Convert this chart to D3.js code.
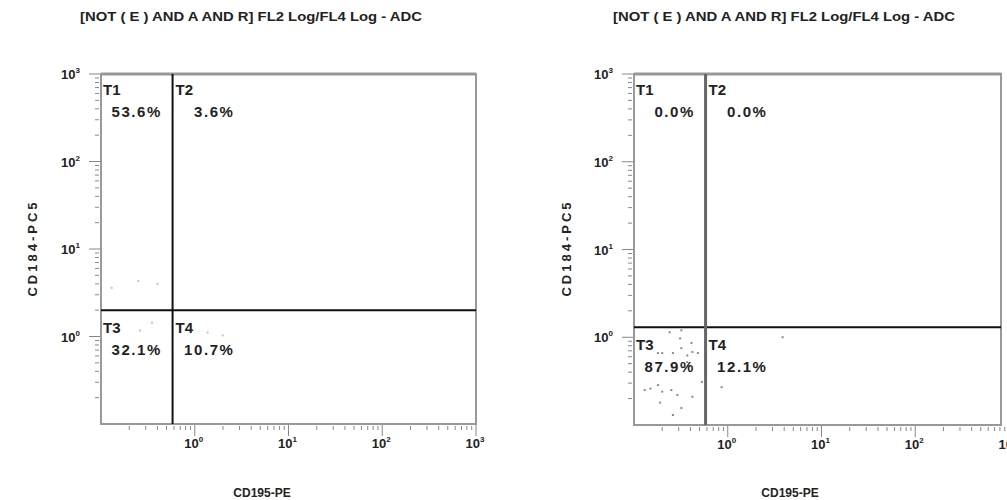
<!DOCTYPE html>
<html lang="en">
<head>
    <meta charset="UTF-8">
    <title>Flow cytometry quadrants</title>
    <script src="https://d3js.org/d3.v7.min.js"></script>
    <style>
        body { margin: 0; background: #fff; }
        text { font-family: "Liberation Sans", Arial, sans-serif; font-weight: bold; fill: #222; }
    </style>
</head>
<body>
<div id="chart"></div>

<script>
    // ---- data ----
    var titles = ["[NOT ( E ) AND A AND R] FL2 Log/FL4 Log - ADC",
                  "[NOT ( E ) AND A AND R] FL2 Log/FL4 Log - ADC"];
    var xLabel = "CD195-PE";
    var yLabel = "CD184-PC5";
    var decades = [0.1, 1, 10, 100, 1000];
    var decadeLabels = ["", "0", "1", "2", "3"];   // exponents shown as 10^n
    var quadNames = ["T1", "T2", "T3", "T4"];
    var leftPcts = ["53.6%", "3.6%", "32.1%", "10.7%"];
    var rightPcts = ["0.0%", "0.0%", "87.9%", "12.1%"];
    var leftGate = [0.58, 2.0];      // [x, y] gate values
    var rightGate = [0.58, 1.3];
    var leftDots = [[0.13, 3.6], [0.25, 4.3], [0.40, 4.0], [0.35, 1.44], [0.26, 1.17], [1.37, 1.11], [1.99, 1.03]];
    var rightDots = [[0.24, 1.14], [0.32, 1.20], [0.31, 0.97], [0.41, 0.86], [0.42, 0.68], [0.20, 0.66],
                     [0.18, 0.66], [0.26, 0.66], [0.37, 0.62], [0.32, 0.75], [0.13, 0.25], [0.15, 0.26],
                     [0.18, 0.285], [0.20, 0.24], [0.25, 0.25], [0.29, 0.22], [0.42, 0.21], [0.19, 0.18],
                     [0.32, 0.156], [0.26, 0.13], [0.53, 0.31], [0.37, 0.52], [0.48, 0.66], [3.85, 1.0],
                     [0.86, 0.27]];

    var w = 1007;
    var h = 500;

    var svg = d3.select("#chart")
                .append("svg")
                .attr("width", w)
                .attr("height", h);

    var panels = [
        { title: titles[0], pcts: leftPcts, gate: leftGate, dots: leftDots,
          x0: 101, x1: 476, frameRight: 476, y0: 74, y1: 424, cx: 251, xcx: 262,
          yLab: 32, gateCol: "#111", gateW: 2, dotCol: "#c4c4c4" },
        { title: titles[1], pcts: rightPcts, gate: rightGate, dots: rightDots,
          x0: 634, x1: 1009, frameRight: 1001, y0: 74, y1: 425, cx: 784, xcx: 790,
          yLab: 566, gateCol: "#666", gateW: 3, dotCol: "#8a8a8a" }
    ];

    panels.forEach(function(p) {
        var x = d3.scaleLog().domain([0.1, 1000]).range([p.x0, p.x1]);
        var y = d3.scaleLog().domain([0.1, 1000]).range([p.y1, p.y0]);
        var g = svg.append("g");

        // title
        g.append("text")
         .attr("x", p.cx).attr("y", 21)
         .attr("text-anchor", "middle")
         .attr("textLength", 342)
         .attr("lengthAdjust", "spacingAndGlyphs")
         .style("font-size", "12.5px")
         .text(p.title);

        // minor + major ticks
        var minors = [];
        for (var d = 0; d < decades.length - 1; d++) {
            for (var k = 2; k < 10; k++) minors.push(decades[d] * k);
        }
        g.selectAll(".ymin").data(minors).enter().append("line")
         .attr("x1", p.x0 - 6).attr("x2", p.x0 - 2)
         .attr("y1", function(v) { return y(v); }).attr("y2", function(v) { return y(v); })
         .attr("stroke", "#888").attr("stroke-width", 1);
        g.selectAll(".xmin").data(minors).enter().append("line")
         .attr("y1", p.y1 + 2).attr("y2", p.y1 + 6)
         .attr("x1", function(v) { return x(v); }).attr("x2", function(v) { return x(v); })
         .attr("stroke", "#888").attr("stroke-width", 1);

        var majors = decades.slice(1);
        g.selectAll(".ymaj").data(majors).enter().append("line")
         .attr("x1", p.x0 - 12).attr("x2", p.x0)
         .attr("y1", function(v) { return y(v); }).attr("y2", function(v) { return y(v); })
         .attr("stroke", "#888").attr("stroke-width", 1);
        g.selectAll(".xmaj").data(majors).enter().append("line")
         .attr("y1", p.y1).attr("y2", p.y1 + 12)
         .attr("x1", function(v) { return x(v); }).attr("x2", function(v) { return x(v); })
         .attr("stroke", "#888").attr("stroke-width", 1);

        // decade labels
        var yl = g.selectAll(".ylab").data(majors).enter().append("text")
                  .attr("x", p.x0 - 21).attr("y", function(v) { return y(v) + 5; })
                  .attr("text-anchor", "end")
                  .style("font-size", "13px");
        yl.append("tspan").text("10");
        yl.append("tspan").attr("dy", -6).style("font-size", "8px")
          .text(function(v, i) { return decadeLabels[i + 1]; });

        var xl = g.selectAll(".xlab").data(majors).enter().append("text")
                  .attr("x", function(v) { return x(v) - 1; }).attr("y", p.y1 + 24)
                  .attr("text-anchor", "middle")
                  .style("font-size", "13px");
        xl.append("tspan").text("10");
        xl.append("tspan").attr("dy", -6).style("font-size", "8px")
          .text(function(v, i) { return decadeLabels[i + 1]; });

        // dots
        g.selectAll(".dot").data(p.dots).enter().append("rect")
         .attr("x", function(d) { return x(d[0]) - 1; })
         .attr("y", function(d) { return y(d[1]) - 1; })
         .attr("width", 2).attr("height", 2)
         .attr("fill", p.dotCol);

        // frame
        g.append("rect")
         .attr("x", p.x0).attr("y", p.y0)
         .attr("width", p.frameRight - p.x0).attr("height", p.y1 - p.y0)
         .attr("fill", "none").attr("stroke", "#999").attr("stroke-width", 2);
        g.append("line")
         .attr("x1", p.x0).attr("x2", p.frameRight).attr("y1", p.y0).attr("y2", p.y0)
         .attr("stroke", "#999").attr("stroke-width", 3);

        // gate lines
        var gx = x(p.gate[0]), gy = y(p.gate[1]);
        g.append("line")
         .attr("x1", p.x0).attr("x2", p.frameRight).attr("y1", gy).attr("y2", gy)
         .attr("stroke", "#111").attr("stroke-width", 2);
        g.append("line")
         .attr("x1", gx).attr("x2", gx).attr("y1", p.y0).attr("y2", p.y1)
         .attr("stroke", p.gateCol).attr("stroke-width", p.gateW);

        // quadrant labels
        var qx = [p.x0 + 2, gx + 3, p.x0 + 2, gx + 3];
        var qy = [p.y0 + 21, p.y0 + 21, gy + 23, gy + 23];
        quadNames.forEach(function(n, i) {
            g.append("text").attr("x", qx[i]).attr("y", qy[i])
             .style("font-size", "15px").text(n);
            g.append("text").attr("x", qx[i] + 59).attr("y", qy[i] + 22)
             .attr("text-anchor", "end")
             .style("font-size", "15px").style("letter-spacing", "1.6px")
             .text(p.pcts[i]);
        });

        // axis titles
        g.append("text")
         .attr("x", p.xcx).attr("y", 497)
         .attr("text-anchor", "middle")
         .style("font-size", "12px")
         .text(xLabel);
        g.append("text")
         .attr("transform", "translate(" + (p.yLab + 5) + "," + 248 + ") rotate(-90)")
         .attr("text-anchor", "middle")
         .style("font-size", "13px")
         .style("letter-spacing", "3px")
         .text(yLabel);
    });
</script>
</body>
</html>
